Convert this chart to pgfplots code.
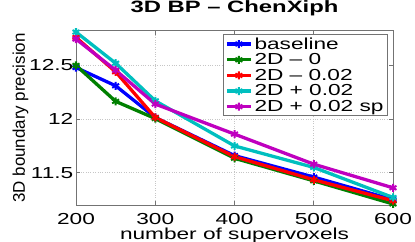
\documentclass[border=0pt]{standalone}
\usepackage{fontspec}
\setmainfont{Liberation Sans}[FakeStretch=1.42]
\newfontfamily\yfont{Liberation Sans}
\newfontfamily\tfont{Liberation Sans Bold}[FakeStretch=1.45, Ligatures=TeX]
\usepackage{pgfplots}
\pgfplotsset{compat=1.18}
\definecolor{mgreen}{rgb}{0,0.5,0}
\definecolor{mcyan}{rgb}{0,0.75,0.75}
\definecolor{mmag}{rgb}{0.75,0,0.75}
\definecolor{axgray}{gray}{0.45}
\begin{document}
\begin{tikzpicture}
\useasboundingbox (0,0) rectangle (415bp,242bp);
\begin{axis}[
  at={(76bp,37bp)}, anchor=south west, scale only axis,
  width=317bp, height=174bp,
  xmin=200, xmax=600, ymin=11.2, ymax=12.82,
  xtick={200,300,400,500,600}, ytick={11.5,12,12.5},
  /pgf/number format/assume math mode=true,
  tick label style={font=\fontsize{16}{18}\selectfont},
  xticklabel style={anchor=base, yshift=-19.5bp, inner sep=0pt},
  yticklabel style={anchor=east, xshift=-2.5bp, inner sep=0pt},
  tick align=inside, major tick length=4bp,
  tick style={axgray, line width=0.8bp},
  axis line style={axgray, line width=1bp},
  grid=major, grid style={dotted, gray!45, line width=0.6bp},
  title={3D BP – ChenXiph},
  title style={at={(axis description cs:0.5,1.072)}, anchor=base, inner sep=0pt, font=\tfont\fontsize{16.5}{18}\selectfont},
  xlabel={number of supervoxels},
  xlabel style={at={(axis description cs:0.5,-0.198)}, anchor=base, inner sep=0pt, font=\fontsize{16}{18}\selectfont},
  ylabel={3D boundary precision},
  ylabel style={at={(axis description cs:-0.161,0.5)}, anchor=base, inner sep=0pt, font=\yfont\fontsize{17}{19}\selectfont},
  legend style={at={(axis description cs:1,1)}, anchor=north east, xshift=-5bp, yshift=-3bp,
    draw=axgray, line width=1bp, fill=white, font=\fontsize{16}{18}\selectfont,
    row sep=-1bp, inner xsep=2bp, inner ysep=1bp, cells={anchor=west}},
  legend image code/.code={\draw[mark repeat=2, mark phase=2] plot coordinates {(0bp,0bp)(12bp,0bp)(24bp,0bp)};},
  clip=false,
  every axis plot/.append style={line width=3.3bp, mark=asterisk, mark size=4bp, mark options={line width=2bp}},
]
\addplot[blue] coordinates {(200,12.48)(250,12.31)(300,12.015)(400,11.66)(500,11.46)(600,11.25)};
\addlegendentry{baseline}
\addplot[mgreen] coordinates {(200,12.50)(250,12.165)(300,12.005)(400,11.635)(500,11.425)(600,11.21)};
\addlegendentry{2D -- 0}
\addplot[red] coordinates {(200,12.76)(250,12.44)(300,12.015)(400,11.65)(500,11.435)(600,11.24)};
\addlegendentry{2D -- 0.02}
\addplot[mcyan] coordinates {(200,12.81)(250,12.52)(300,12.17)(400,11.75)(500,11.55)(600,11.27)};
\addlegendentry{2D + 0.02}
\addplot[mmag] coordinates {(200,12.745)(250,12.455)(300,12.14)(400,11.86)(500,11.58)(600,11.36)};
\addlegendentry{2D + 0.02 sp}
\end{axis}
\end{tikzpicture}
\end{document}
